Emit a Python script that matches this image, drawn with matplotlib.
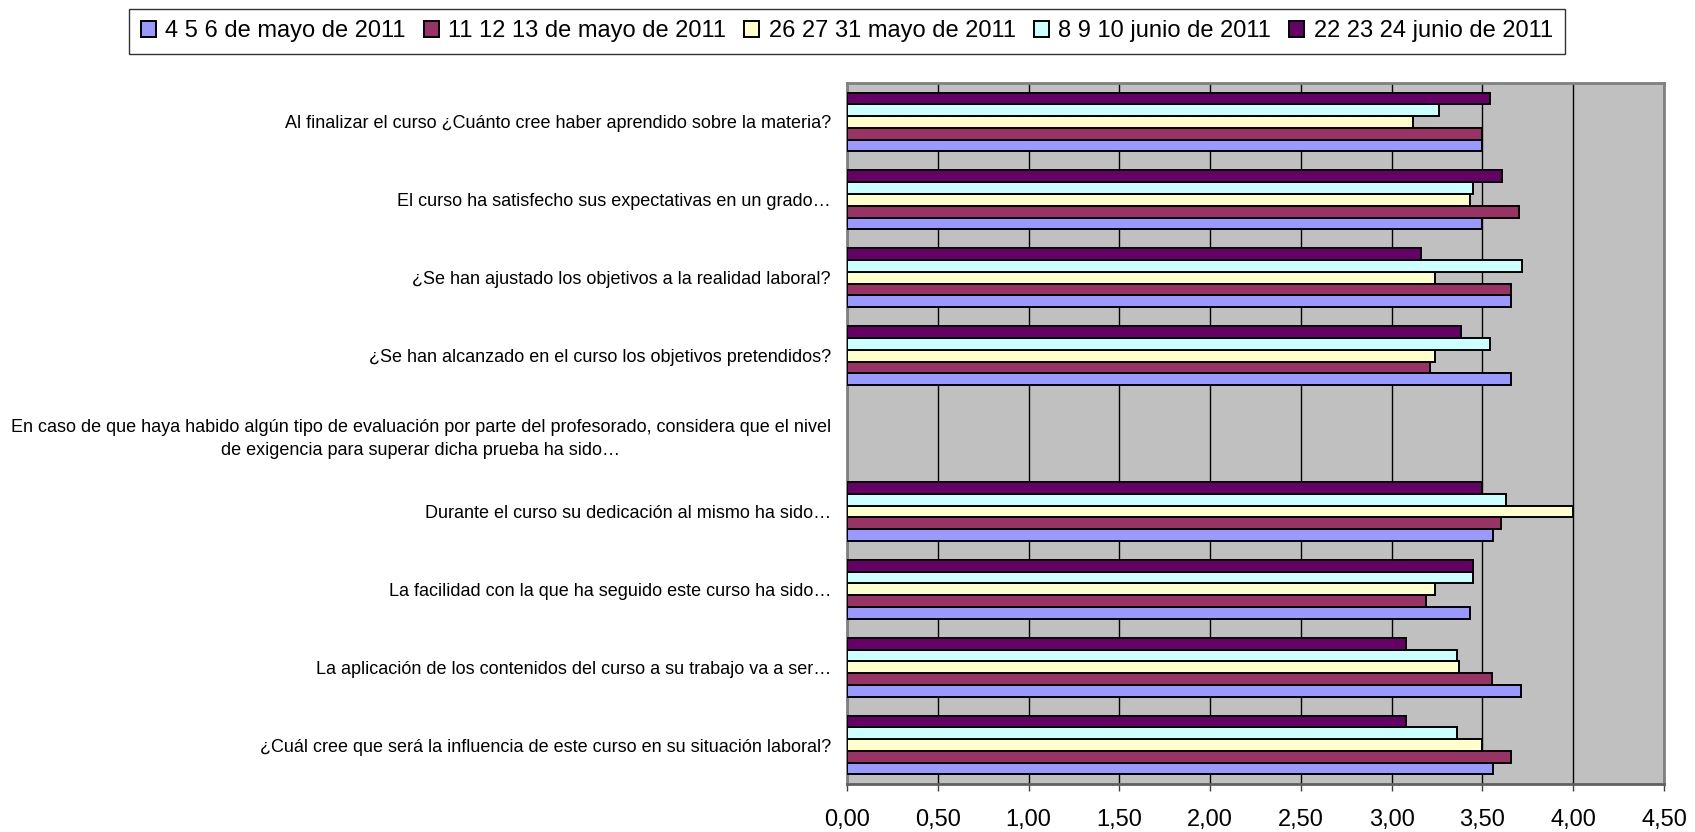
import numpy as np
import matplotlib.pyplot as plt
from matplotlib.patches import Patch

plt.rcParams['font.family'] = ['Liberation Sans', 'DejaVu Sans']

# preguntas, de arriba abajo
preguntas = [
    "Al finalizar el curso ¿Cuánto cree haber aprendido sobre la materia?",
    "El curso ha satisfecho sus expectativas en un grado…",
    "¿Se han ajustado los objetivos a la realidad laboral?",
    "¿Se han alcanzado en el curso los objetivos pretendidos?",
    "En caso de que haya habido algún tipo de evaluación por parte del profesorado, considera que el nivel\nde exigencia para superar dicha prueba ha sido…",
    "Durante el curso su dedicación al mismo ha sido…",
    "La facilidad con la que ha seguido este curso ha sido…",
    "La aplicación de los contenidos del curso a su trabajo va a ser…",
    "¿Cuál cree que será la influencia de este curso en su situación laboral?",
]

fechas = [
    "4 5 6 de mayo de 2011",
    "11 12 13 de mayo de 2011",
    "26 27 31 mayo de 2011",
    "8 9 10 junio de 2011",
    "22 23 24 junio de 2011",
]

nan = np.nan
mayo_4_6   = [3.50, 3.50, 3.66, 3.66, nan, 3.56, 3.43, 3.71, 3.56]
mayo_11_13 = [3.50, 3.70, 3.66, 3.21, nan, 3.60, 3.19, 3.55, 3.66]
mayo_26_31 = [3.12, 3.43, 3.24, 3.24, nan, 4.00, 3.24, 3.37, 3.50]
junio_8_10 = [3.26, 3.45, 3.72, 3.54, nan, 3.63, 3.45, 3.36, 3.36]
junio_22_24 = [3.54, 3.61, 3.16, 3.38, nan, 3.50, 3.45, 3.08, 3.08]

series = [mayo_4_6, mayo_11_13, mayo_26_31, junio_8_10, junio_22_24]
colores = ["#9999FF", "#993366", "#FFFFCC", "#CCFFFF", "#660066"]

ticks_x = [0, 0.5, 1, 1.5, 2, 2.5, 3, 3.5, 4, 4.5]

fig = plt.figure(figsize=(16.95, 8.32), dpi=100)
ax = fig.add_axes([0.4997, 0.0577, 0.9817 - 0.4997, 0.9002 - 0.0577])
ax.set_facecolor("#C0C0C0")

n = len(preguntas)
ypos = np.arange(n)[::-1]          # primera pregunta arriba
alto = 0.151
for i, (vals, col) in enumerate(zip(series, colores)):
    off = (i - 2) * alto
    ax.barh(ypos + off, vals, height=alto, color=col,
            edgecolor="black", linewidth=1.4, zorder=3)

ax.set_xlim(0, 4.5)
ax.set_ylim(-0.5, n - 0.5)
ax.set_xticks(ticks_x)
ax.set_xticklabels([f"{t:.2f}".replace(".", ",") for t in ticks_x], fontsize=17)
ax.tick_params(axis="x", direction="out", length=5, width=1, color="#404040", pad=13)
ax.set_yticks(ypos)
ax.set_yticklabels(preguntas, fontsize=13, linespacing=1.5)
ax.tick_params(axis="y", length=0, pad=11.5)
for lbl in ax.get_yticklabels():
    lbl.set_multialignment("center")

ax.xaxis.grid(True, color="black", linewidth=1, zorder=1)
ax.set_axisbelow(True)
for s in ax.spines.values():
    s.set_color("#808080")
    s.set_linewidth(2)
ax.spines["bottom"].set_color("#606060")

handles = [Patch(facecolor=c, edgecolor="black", linewidth=1.4) for c in colores]
leg = fig.legend(handles, fechas, loc="center", bbox_to_anchor=(0.4995, 1 - 31.5 / 832),
                 ncol=5, fontsize=17, frameon=True, fancybox=False,
                 handlelength=0.65, handleheight=0.65, handletextpad=0.4,
                 columnspacing=0.75, borderpad=0.5, edgecolor="black")
leg.get_frame().set_linewidth(1)

fig.savefig("out.png", dpi=100)
